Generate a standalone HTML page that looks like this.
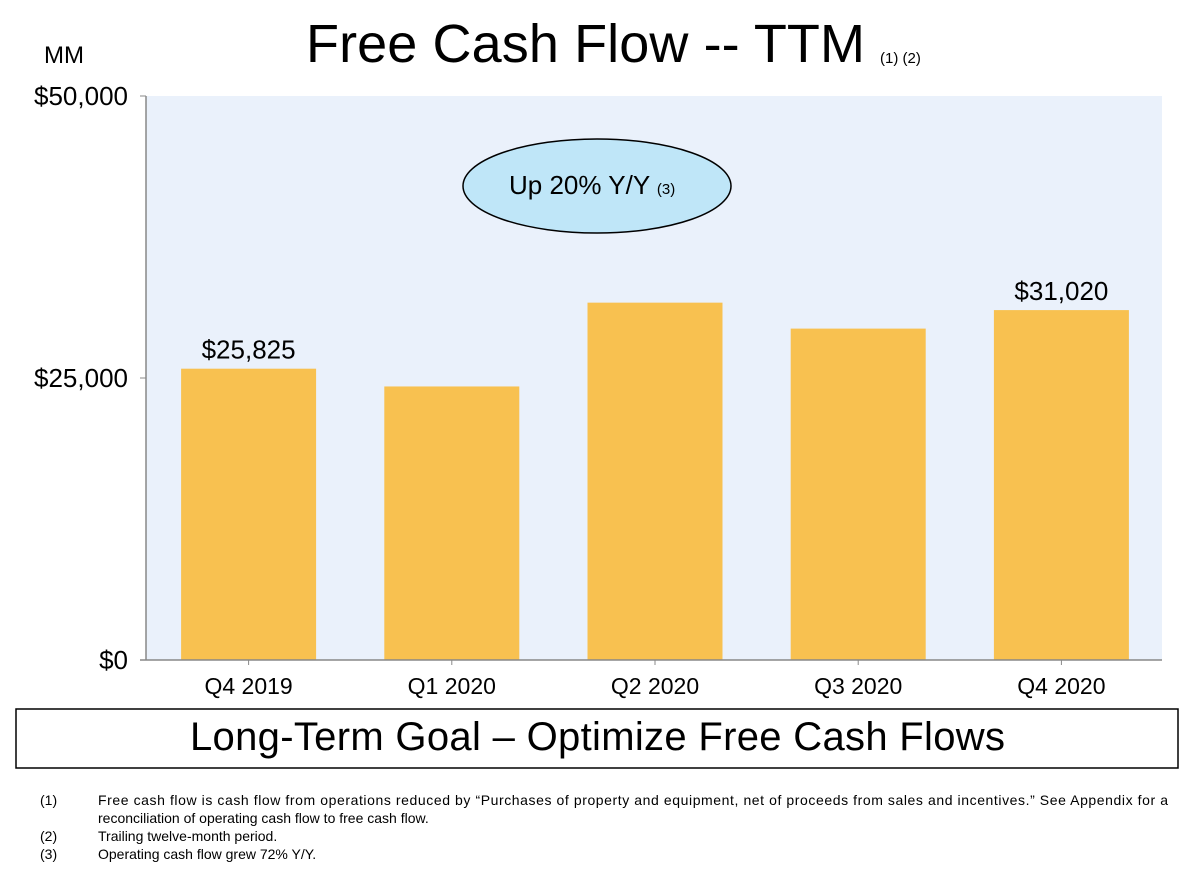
<!DOCTYPE html>
<html><head><meta charset="utf-8"><style>
body{margin:0;background:#fff;width:1200px;height:889px;overflow:hidden;font-family:"Liberation Sans",sans-serif;}
</style></head><body>
<svg width="1200" height="889" xmlns="http://www.w3.org/2000/svg" font-family="Liberation Sans, sans-serif" id="chart">
<text x="306" y="62" font-size="54" textLength="559">Free Cash Flow -- TTM</text>
<text x="880" y="63" font-size="15">(1) (2)</text>
<text x="44" y="63" font-size="24">MM</text>
<rect x="146" y="96" width="1016" height="564" fill="#EAF1FB"/>
<g id="bars"></g>
<g id="axes"></g>
<ellipse cx="597" cy="186" rx="134" ry="47" fill="#BFE6F8" stroke="#000" stroke-width="1.5"/>
<text x="509" y="194" font-size="26">Up 20% Y/Y <tspan font-size="15">(3)</tspan></text>
<rect x="16" y="709" width="1162" height="59" fill="#fff" stroke="#000" stroke-width="1.5"/>
<text x="190" y="750" font-size="40" textLength="815">Long-Term Goal – Optimize Free Cash Flows</text>
<g font-size="14">
<text x="40" y="805">(1)</text><text x="98" y="805" textLength="1070">Free cash flow is cash flow from operations reduced by “Purchases of property and equipment, net of proceeds from sales and incentives.” See Appendix for a</text>
<text x="98" y="823">reconciliation of operating cash flow to free cash flow.</text>
<text x="40" y="841">(2)</text><text x="98" y="841">Trailing twelve-month period.</text>
<text x="40" y="859">(3)</text><text x="98" y="859">Operating cash flow grew 72% Y/Y.</text>
</g>
</svg>
<script>
const categories=["Q4 2019","Q1 2020","Q2 2020","Q3 2020","Q4 2020"];
const values=[25825,24250,31680,29380,31020];
const valueLabels=["$25,825","","","","$31,020"];
const yTicks=[0,25000,50000];
const yTickLabels=["$0","$25,000","$50,000"];
const NS="http://www.w3.org/2000/svg";
const x0=146,x1=1162,yBase=660,yTop=96,yMax=50000;
const band=(x1-x0)/categories.length;
const y=v=>yBase-(v/yMax)*(yBase-yTop);
const xc=i=>x0+band*(i+0.5)+1;
function mk(t,a){const e=document.createElementNS(NS,t);for(const k in a)e.setAttribute(k,a[k]);return e;}
const bars=document.getElementById('bars'),axes=document.getElementById('axes');
categories.forEach((c,i)=>{
 const r=mk('rect',{x:xc(i)-67.5,y:y(values[i]),width:135,height:yBase-y(values[i]),fill:'#F8C150'});
 
 
 bars.appendChild(r);
 if(valueLabels[i]){const t=mk('text',{x:xc(i),y:y(values[i])-10,'font-size':26,'text-anchor':'middle'});t.textContent=valueLabels[i];
 
 
 bars.appendChild(t);}
 const tk=mk('line',{x1:xc(i),x2:xc(i),y1:yBase,y2:yBase+5,stroke:'#888'});axes.appendChild(tk);
 const l=mk('text',{x:xc(i),y:694,'font-size':23,'text-anchor':'middle'});l.textContent=c;
 
 
 axes.appendChild(l);
});
axes.appendChild(mk('line',{x1:x0,x2:x0,y1:yTop,y2:yBase,stroke:'#888','stroke-width':1.5}));
axes.appendChild(mk('line',{x1:x0-6,x2:x1,y1:yBase,y2:yBase,stroke:'#888','stroke-width':1.5}));
yTicks.forEach((v,i)=>{
 axes.appendChild(mk('line',{x1:x0-6,x2:x0,y1:y(v),y2:y(v),stroke:'#888'}));
 const t=mk('text',{x:128,y:y(v)+9,'font-size':26,'text-anchor':'end'});t.textContent=yTickLabels[i];
 
 
 axes.appendChild(t);
});
</script>
</body></html>
